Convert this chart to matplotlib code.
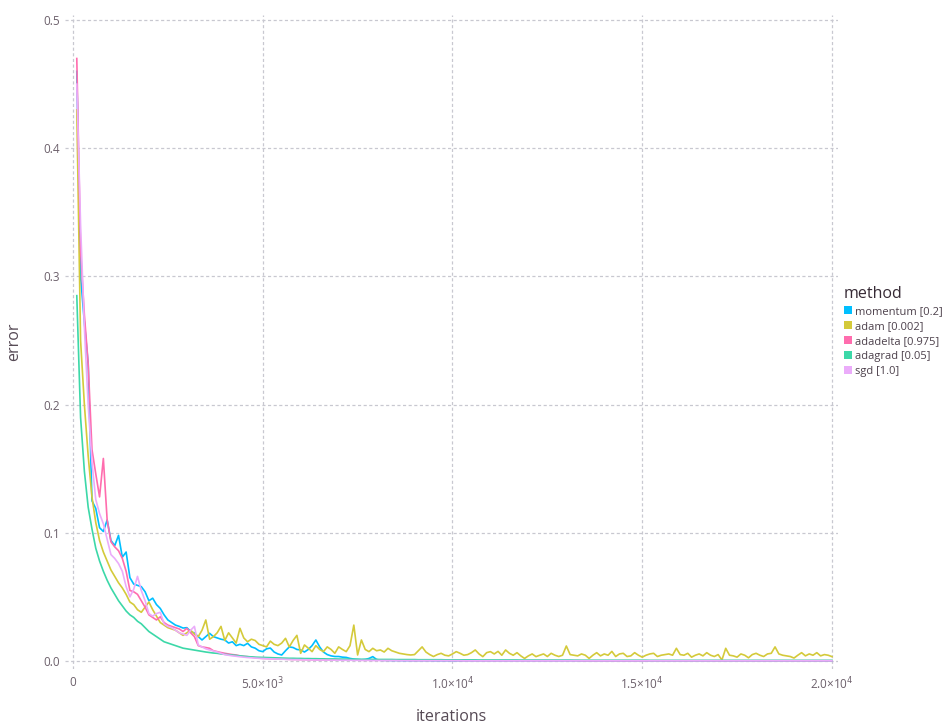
import matplotlib
matplotlib.use("Agg")
import matplotlib.pyplot as plt
from matplotlib.patches import Patch
import numpy as np

# training error sampled every 100 iterations
iterations = list(range(100, 20001, 100))

methods = ["momentum [0.2]", "adam [0.002]", "adadelta [0.975]", "adagrad [0.05]", "sgd [1.0]"]
colors = ["#00BFFF", "#D4CA3A", "#FF6DAE", "#3CD8A8", "#EBACFA"]

momentum = [
    0.460, 0.300, 0.264, 0.232, 0.125, 0.119, 0.104, 0.101, 0.110, 0.094,
    0.090, 0.098, 0.081, 0.085, 0.065, 0.060, 0.059, 0.058, 0.054, 0.047,
    0.049, 0.044, 0.041, 0.036, 0.032, 0.030, 0.028, 0.027, 0.0257, 0.026,
    0.023, 0.0218, 0.019, 0.0164, 0.019, 0.0216, 0.019, 0.018, 0.017, 0.0164,
    0.014, 0.015, 0.012, 0.013, 0.012, 0.0138, 0.011, 0.010, 0.008, 0.0073,
    0.0095, 0.0101, 0.007, 0.0055, 0.0047, 0.008, 0.011, 0.0105, 0.009, 0.0086,
    0.007, 0.009, 0.012, 0.0164, 0.011, 0.007, 0.005, 0.004, 0.0035, 0.0035,
    0.003, 0.0028, 0.002, 0.0015, 0.0012, 0.001, 0.0012, 0.002, 0.0034, 0.0012,
    0.0006, 0.0005, 0.0005, 0.0004, 0.0004, 0.0004, 0.0003, 0.0003, 0.0003, 0.0003,
    0.0003, 0.0003, 0.0003, 0.0003, 0.0002, 0.0002, 0.0002, 0.0002, 0.0002, 0.0002,
    0.0002, 0.0002, 0.0002, 0.0002, 0.0002, 0.0002, 0.0002, 0.0002, 0.0002, 0.0002,
    0.0002, 0.0002, 0.0002, 0.0002, 0.0002, 0.0002, 0.0002, 0.0002, 0.0002, 0.0002,
    0.0002, 0.0002, 0.0002, 0.0002, 0.0002, 0.0002, 0.0002, 0.0002, 0.0002, 0.0002,
    0.0002, 0.0002, 0.0002, 0.0001, 0.0001, 0.0001, 0.0001, 0.0001, 0.0001, 0.0001,
    0.0001, 0.0001, 0.0001, 0.0001, 0.0001, 0.0001, 0.0001, 0.0001, 0.0001, 0.0001,
    0.0001, 0.0001, 0.0001, 0.0001, 0.0001, 0.0001, 0.0001, 0.0001, 0.0001, 0.0001,
    0.0001, 0.0001, 0.0001, 0.0001, 0.0001, 0.0001, 0.0001, 0.0001, 0.0001, 0.0001,
    0.0001, 0.0001, 0.0001, 0.0001, 0.0001, 0.0001, 0.0001, 0.0001, 0.0001, 0.0001,
    0.0001, 0.0001, 0.0001, 0.0001, 0.0001, 0.0001, 0.0001, 0.0001, 0.0001, 0.0001,
    0.0001, 0.0001, 0.0001, 0.0001, 0.0001, 0.0001, 0.0001, 0.0001, 0.0001, 0.0001,
]

adam = [
    0.430, 0.250, 0.200, 0.160, 0.128, 0.108, 0.094, 0.085, 0.078, 0.071,
    0.066, 0.061, 0.057, 0.052, 0.046, 0.044, 0.040, 0.038, 0.042, 0.046,
    0.040, 0.035, 0.030, 0.028, 0.026, 0.025, 0.024, 0.022, 0.020, 0.022,
    0.024, 0.021, 0.019, 0.024, 0.032, 0.017, 0.019, 0.022, 0.027, 0.016,
    0.022, 0.018, 0.014, 0.0255, 0.018, 0.015, 0.017, 0.016, 0.013, 0.012,
    0.011, 0.0155, 0.013, 0.012, 0.014, 0.0177, 0.011, 0.016, 0.020, 0.006,
    0.0125, 0.010, 0.0073, 0.012, 0.009, 0.0073, 0.011, 0.009, 0.006, 0.011,
    0.009, 0.0073, 0.012, 0.028, 0.0047, 0.0164, 0.009, 0.0073, 0.0099, 0.008,
    0.0086, 0.007, 0.0099, 0.008, 0.007, 0.006, 0.0055, 0.005, 0.0047, 0.005,
    0.008, 0.011, 0.007, 0.005, 0.0035, 0.005, 0.006, 0.0045, 0.004, 0.0055,
    0.0073, 0.006, 0.0045, 0.005, 0.0065, 0.0086, 0.0055, 0.0034, 0.0065, 0.0073,
    0.0055, 0.0075, 0.0045, 0.0086, 0.006, 0.0045, 0.0065, 0.004, 0.002, 0.004,
    0.0055, 0.0034, 0.0045, 0.0055, 0.0035, 0.006, 0.0045, 0.0035, 0.0045, 0.0117,
    0.005, 0.0045, 0.004, 0.0055, 0.0045, 0.002, 0.0045, 0.0065, 0.004, 0.0055,
    0.0045, 0.0075, 0.0035, 0.0055, 0.006, 0.0035, 0.004, 0.0065, 0.0045, 0.003,
    0.0045, 0.0055, 0.006, 0.0035, 0.0045, 0.005, 0.0055, 0.0045, 0.0099, 0.005,
    0.0045, 0.006, 0.003, 0.0045, 0.0055, 0.004, 0.0065, 0.0045, 0.0035, 0.005,
    0.0008, 0.0099, 0.0045, 0.004, 0.003, 0.0055, 0.0045, 0.0025, 0.005, 0.006,
    0.0045, 0.0035, 0.0055, 0.006, 0.011, 0.0055, 0.0045, 0.004, 0.0035, 0.0023,
    0.0045, 0.0065, 0.004, 0.0055, 0.0045, 0.0065, 0.004, 0.005, 0.0045, 0.0034,
]

adadelta = [
    0.470, 0.320, 0.270, 0.232, 0.165, 0.146, 0.128, 0.158, 0.110, 0.093,
    0.089, 0.086, 0.080, 0.070, 0.055, 0.054, 0.052, 0.047, 0.042, 0.036,
    0.034, 0.032, 0.0345, 0.030, 0.028, 0.027, 0.026, 0.025, 0.023, 0.0255,
    0.022, 0.019, 0.012, 0.011, 0.0105, 0.0099, 0.008, 0.0073, 0.0066, 0.006,
    0.0055, 0.005, 0.0047, 0.004, 0.0036, 0.0034, 0.003, 0.0026, 0.0022, 0.002,
    0.0019, 0.0018, 0.0017, 0.0016, 0.0015, 0.0014, 0.0013, 0.0012, 0.0012, 0.0011,
    0.0011, 0.0010, 0.0010, 0.0009, 0.0009, 0.0009, 0.0008, 0.0008, 0.0008, 0.0008,
    0.0007, 0.0007, 0.0007, 0.0007, 0.0007, 0.0006, 0.0006, 0.0006, 0.0006, 0.0006,
    0.0006, 0.0005, 0.0005, 0.0005, 0.0005, 0.0005, 0.0005, 0.0005, 0.0004, 0.0004,
    0.0004, 0.0004, 0.0004, 0.0004, 0.0004, 0.0004, 0.0004, 0.0004, 0.0004, 0.0004,
    0.0004, 0.0003, 0.0003, 0.0003, 0.0003, 0.0003, 0.0003, 0.0003, 0.0003, 0.0003,
    0.0003, 0.0003, 0.0003, 0.0003, 0.0003, 0.0003, 0.0003, 0.0003, 0.0003, 0.0003,
    0.0003, 0.0003, 0.0003, 0.0003, 0.0003, 0.0003, 0.0003, 0.0003, 0.0003, 0.0003,
    0.0003, 0.0003, 0.0003, 0.0002, 0.0002, 0.0002, 0.0002, 0.0002, 0.0002, 0.0002,
    0.0002, 0.0002, 0.0002, 0.0002, 0.0002, 0.0002, 0.0002, 0.0002, 0.0002, 0.0002,
    0.0002, 0.0002, 0.0002, 0.0002, 0.0002, 0.0002, 0.0002, 0.0002, 0.0002, 0.0002,
    0.0002, 0.0002, 0.0002, 0.0002, 0.0002, 0.0002, 0.0002, 0.0002, 0.0002, 0.0002,
    0.0002, 0.0002, 0.0002, 0.0002, 0.0002, 0.0002, 0.0002, 0.0002, 0.0002, 0.0002,
    0.0002, 0.0002, 0.0002, 0.0002, 0.0002, 0.0002, 0.0002, 0.0002, 0.0002, 0.0002,
    0.0002, 0.0002, 0.0002, 0.0002, 0.0002, 0.0002, 0.0002, 0.0002, 0.0002, 0.0002,
]

adagrad = [
    0.285, 0.190, 0.148, 0.120, 0.103, 0.088, 0.078, 0.070, 0.063, 0.057,
    0.052, 0.047, 0.043, 0.039, 0.036, 0.034, 0.031, 0.029, 0.026, 0.023,
    0.021, 0.019, 0.017, 0.015, 0.014, 0.013, 0.012, 0.011, 0.010, 0.0095,
    0.009, 0.0085, 0.008, 0.0075, 0.007, 0.0066, 0.0062, 0.006, 0.0055, 0.0052,
    0.0049, 0.0046, 0.0043, 0.004, 0.0037, 0.0034, 0.0032, 0.003, 0.0029, 0.0028,
    0.0027, 0.0026, 0.0025, 0.0024, 0.0023, 0.0022, 0.0021, 0.0021, 0.002, 0.002,
    0.0019, 0.0019, 0.0018, 0.0018, 0.0017, 0.0017, 0.0016, 0.0016, 0.0016, 0.0015,
    0.0015, 0.0015, 0.0014, 0.0014, 0.0014, 0.0013, 0.0013, 0.0013, 0.0013, 0.0012,
    0.0012, 0.0012, 0.0012, 0.0012, 0.0011, 0.0011, 0.0011, 0.0011, 0.0011, 0.0011,
    0.0010, 0.0010, 0.0010, 0.0010, 0.0010, 0.0010, 0.0010, 0.0009, 0.0009, 0.0009,
    0.0009, 0.0009, 0.0009, 0.0009, 0.0009, 0.0009, 0.0008, 0.0008, 0.0008, 0.0008,
    0.0008, 0.0008, 0.0008, 0.0008, 0.0008, 0.0008, 0.0008, 0.0007, 0.0007, 0.0007,
    0.0007, 0.0007, 0.0007, 0.0007, 0.0007, 0.0007, 0.0007, 0.0007, 0.0007, 0.0007,
    0.0007, 0.0006, 0.0006, 0.0006, 0.0006, 0.0006, 0.0006, 0.0006, 0.0006, 0.0006,
    0.0006, 0.0006, 0.0006, 0.0006, 0.0006, 0.0006, 0.0006, 0.0006, 0.0006, 0.0006,
    0.0006, 0.0005, 0.0005, 0.0005, 0.0005, 0.0005, 0.0005, 0.0005, 0.0005, 0.0005,
    0.0005, 0.0005, 0.0005, 0.0005, 0.0005, 0.0005, 0.0005, 0.0005, 0.0005, 0.0005,
    0.0005, 0.0005, 0.0005, 0.0005, 0.0005, 0.0005, 0.0005, 0.0005, 0.0005, 0.0005,
    0.0005, 0.0005, 0.0005, 0.0005, 0.0005, 0.0005, 0.0005, 0.0005, 0.0005, 0.0005,
    0.0005, 0.0005, 0.0005, 0.0005, 0.0005, 0.0005, 0.0005, 0.0005, 0.0005, 0.0005,
]

sgd = [
    0.450, 0.340, 0.260, 0.200, 0.155, 0.126, 0.115, 0.107, 0.095, 0.083,
    0.080, 0.076, 0.070, 0.058, 0.050, 0.056, 0.066, 0.055, 0.047, 0.037,
    0.035, 0.037, 0.038, 0.029, 0.027, 0.026, 0.024, 0.022, 0.021, 0.020,
    0.024, 0.027, 0.0125, 0.011, 0.0095, 0.0086, 0.0078, 0.007, 0.006, 0.005,
    0.0045, 0.004, 0.0037, 0.0033, 0.003, 0.0027, 0.0025, 0.0023, 0.0021, 0.002,
    0.0018, 0.0017, 0.0016, 0.0015, 0.0014, 0.0013, 0.0012, 0.0011, 0.0011, 0.0010,
    0.0010, 0.0009, 0.0009, 0.0008, 0.0008, 0.0008, 0.0007, 0.0007, 0.0007, 0.0006,
    0.0006, 0.0006, 0.0006, 0.0005, 0.0005, 0.0005, 0.0005, 0.0005, 0.0004, 0.0004,
    0.0004, 0.0004, 0.0004, 0.0004, 0.0004, 0.0003, 0.0003, 0.0003, 0.0003, 0.0003,
    0.0003, 0.0003, 0.0003, 0.0003, 0.0003, 0.0003, 0.0003, 0.0003, 0.0003, 0.0003,
    0.0003, 0.0003, 0.0002, 0.0002, 0.0002, 0.0002, 0.0002, 0.0002, 0.0002, 0.0002,
    0.0002, 0.0002, 0.0002, 0.0002, 0.0002, 0.0002, 0.0002, 0.0002, 0.0002, 0.0002,
    0.0002, 0.0002, 0.0002, 0.0002, 0.0002, 0.0002, 0.0002, 0.0002, 0.0002, 0.0002,
    0.0002, 0.0002, 0.0002, 0.0002, 0.0002, 0.0002, 0.0002, 0.0002, 0.0002, 0.0002,
    0.0002, 0.0002, 0.0002, 0.0002, 0.0002, 0.0002, 0.0002, 0.0002, 0.0002, 0.0002,
    0.0002, 0.0002, 0.0002, 0.0002, 0.0002, 0.0002, 0.0002, 0.0002, 0.0002, 0.0002,
    0.0002, 0.0002, 0.0002, 0.0002, 0.0002, 0.0002, 0.0002, 0.0002, 0.0002, 0.0002,
    0.0002, 0.0002, 0.0002, 0.0002, 0.0002, 0.0002, 0.0002, 0.0002, 0.0002, 0.0002,
    0.0002, 0.0002, 0.0002, 0.0002, 0.0002, 0.0002, 0.0002, 0.0002, 0.0002, 0.0002,
    0.0002, 0.0002, 0.0002, 0.0002, 0.0002, 0.0002, 0.0002, 0.0002, 0.0002, 0.0002,
]

x_ticks = [0, 5000, 10000, 15000, 20000]
x_tick_labels = ["0", "5.0×10$^{3}$", "1.0×10$^{4}$", "1.5×10$^{4}$", "2.0×10$^{4}$"]
y_ticks = [0.0, 0.1, 0.2, 0.3, 0.4, 0.5]
y_tick_labels = ["0.0", "0.1", "0.2", "0.3", "0.4", "0.5"]

series = [momentum, adam, adadelta, adagrad, sgd]
for s in series:
    assert len(s) == len(iterations)

plt.rcParams["font.family"] = ["Open Sans", "DejaVu Sans"]
plt.rcParams["mathtext.fontset"] = "dejavusans"

fig = plt.figure(figsize=(9.52, 7.24), dpi=100)
ax = fig.add_axes([0.0687, 0.0764, 0.8116, 0.903])

for vals, col in zip(series, colors):
    ax.plot(iterations, vals, color=col, lw=1.2, solid_joinstyle="round")

ax.set_xlim(-200, 20160)
ax.set_ylim(-0.006, 0.504)

for s in ax.spines.values():
    s.set_visible(False)

ax.set_xticks(x_ticks)
ax.set_xticklabels(x_tick_labels)
ax.set_yticks(y_ticks)
ax.set_yticklabels(y_tick_labels)
ax.tick_params(length=0, labelsize=8.5, labelcolor="#6C606B")
ax.tick_params(axis="x", pad=5)
ax.tick_params(axis="y", pad=4)
ax.grid(True, color="#C8C8D0", lw=0.9, linestyle=(0, (2.5, 2)))
ax.set_axisbelow(True)

ax.set_xlabel("iterations", fontsize=11.5, color="#564A55", labelpad=12)
ax.set_ylabel("error", fontsize=11.5, color="#564A55", labelpad=15)

handles = [Patch(facecolor=c, edgecolor="none") for c in colors]
leg = fig.legend(handles, methods, loc="upper left",
                 bbox_to_anchor=(836 / 952, 1 - 278 / 724),
                 frameon=False, fontsize=8, title="method", title_fontsize=11.5,
                 handlelength=0.75, handleheight=0.75, handletextpad=0.3,
                 labelspacing=0.36, borderpad=0.2, alignment="left")
leg.get_title().set_color("#362A35")
for t in leg.get_texts():
    t.set_color("#4C404B")

fig.savefig("out.png", dpi=100, facecolor="white")
